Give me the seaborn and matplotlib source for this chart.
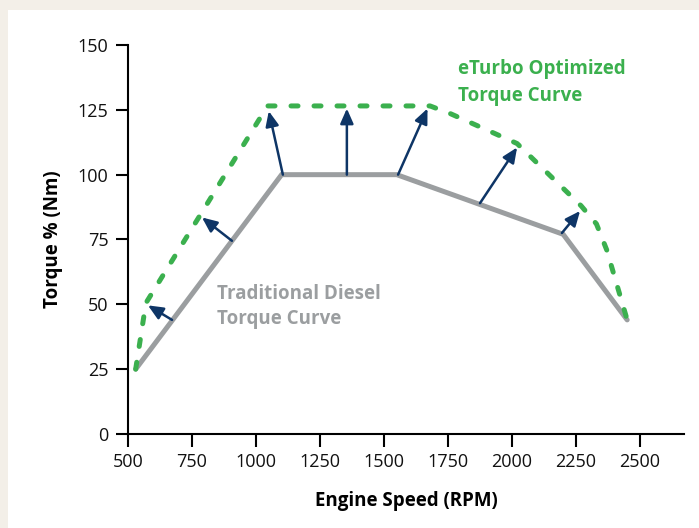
import matplotlib
matplotlib.use("Agg")
import matplotlib.pyplot as plt
import seaborn as sns
import pandas as pd
from matplotlib.patches import Rectangle

# ---- data ----
rpm_diesel = [530, 1100, 1550, 2200, 2450]
torque_diesel = [25, 100, 100, 77, 44]

rpm_eturbo = [530, 570, 1045, 1680, 1760, 1930, 2020, 2270, 2330, 2370, 2450]
torque_eturbo = [25, 50.5, 126.5, 126.5, 123.5, 116, 112, 88, 81, 71, 44]

arrow_from_x = [672, 906, 1105, 1355, 1555, 1875, 2195]
arrow_from_y = [44, 74.5, 100, 100, 100, 89, 77.5]
arrow_to_x = [578, 789, 1050, 1355, 1670, 2020, 2266]
arrow_to_y = [49.6, 83.5, 124.5, 125.5, 125.5, 110.5, 86]

x_ticks = [500, 750, 1000, 1250, 1500, 1750, 2000, 2250, 2500]
y_ticks = [0, 25, 50, 75, 100, 125, 150]

label_eturbo = "eTurbo Optimized\nTorque Curve"
label_diesel = "Traditional Diesel\nTorque Curve"
x_label = "Engine Speed (RPM)"
y_label = "Torque % (Nm)"

GREEN = "#3bb04e"
GRAY = "#9b9ea0"
NAVY = "#0e3566"
BEIGE = "#f3efe8"

sns.set_theme(style="white")
plt.rcParams["font.family"] = ["Open Sans", "DejaVu Sans"]

fig = plt.figure(figsize=(6.99, 5.28), dpi=100)
fig.patch.set_facecolor(BEIGE)
fig.patches.append(Rectangle((8 / 699, 0), 1, 1 - 10 / 528, transform=fig.transFigure,
                             facecolor="white", edgecolor="none", zorder=-10))

ax = fig.add_axes([128 / 699, 1 - 434 / 528, (684 - 128) / 699, (434 - 45) / 528])
ax.set_facecolor("none")
ax.set_zorder(5)

df_d = pd.DataFrame({"rpm": rpm_diesel, "torque": torque_diesel})
df_e = pd.DataFrame({"rpm": rpm_eturbo, "torque": torque_eturbo})

sns.lineplot(data=df_d, x="rpm", y="torque", ax=ax, color=GRAY, linewidth=3.6,
             sort=False, solid_joinstyle="miter", zorder=3)
sns.lineplot(data=df_e, x="rpm", y="torque", ax=ax, color=GREEN, linewidth=3.6,
             sort=False, linestyle=(0, (1.4, 3.2)), dash_capstyle="round", zorder=4)

for x0, y0, x1, y1 in zip(arrow_from_x, arrow_from_y, arrow_to_x, arrow_to_y):
    ax.annotate("", xy=(x1, y1), xytext=(x0, y0),
                arrowprops=dict(arrowstyle="-|>,head_length=0.75,head_width=0.33",
                                color=NAVY, lw=1.8, shrinkA=0, shrinkB=0),
                zorder=5)

ax.text(1789, 144.5, label_eturbo, color=GREEN, fontsize=13.5, fontweight="bold",
        ha="left", va="top", linespacing=1.43)
ax.text(848, 58, label_diesel, color=GRAY, fontsize=13.5, fontweight="bold",
        ha="left", va="top", linespacing=1.33)

ax.set_xlim(500, 2672)
ax.set_ylim(0, 150)
ax.set_xticks(x_ticks)
ax.set_yticks(y_ticks)
ax.set_xticklabels([str(t) for t in x_ticks])
ax.set_yticklabels([str(t) for t in y_ticks])

for s in ["top", "right"]:
    ax.spines[s].set_visible(False)
for s in ["left", "bottom"]:
    ax.spines[s].set_color("black")
    ax.spines[s].set_linewidth(1.5)

ax.tick_params(axis="both", direction="out", length=9, width=1.5, color="black",
               labelsize=13, labelcolor="#111111", bottom=True, left=True)
ax.tick_params(axis="x", pad=5)
ax.tick_params(axis="y", pad=5)

ax.set_xlabel(x_label, fontsize=13.5, fontweight="bold", color="black", labelpad=14)
ax.set_ylabel(y_label, fontsize=13.5, fontweight="bold", color="black", labelpad=11)
ax.grid(False)

fig.savefig("out.png", dpi=100, facecolor=fig.get_facecolor())
